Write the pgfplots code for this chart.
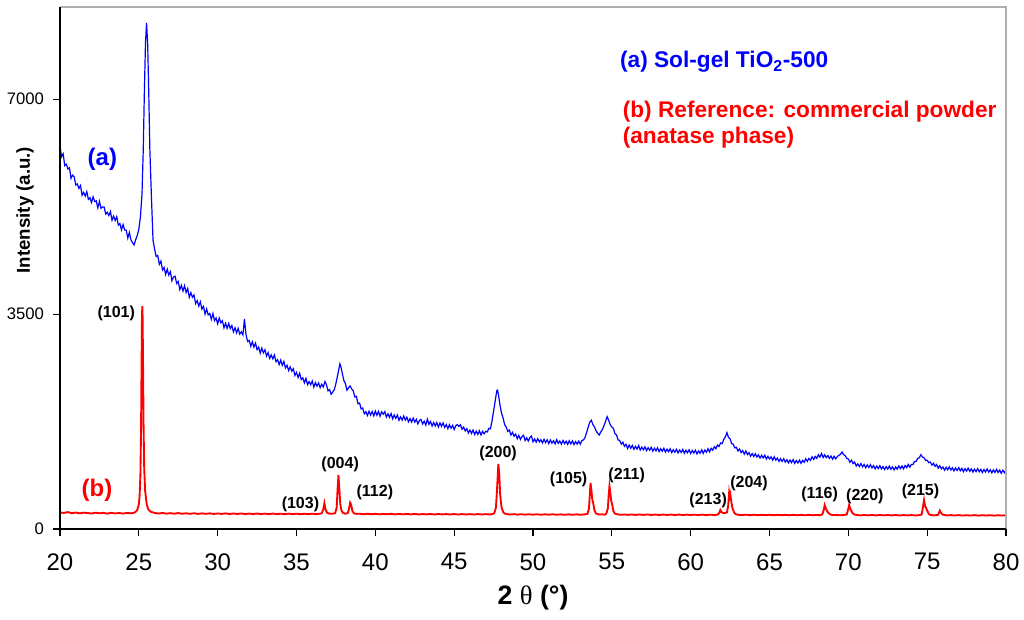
\documentclass[border=0pt]{standalone}
\usepackage{pgfplots}
\pgfplotsset{compat=1.18}
\usepackage{fontspec}
\setmainfont{Liberation Sans}
\newfontfamily\seriffont{Liberation Serif}
\definecolor{pblue}{RGB}{0,0,255}
\definecolor{pred}{RGB}{255,0,0}
\definecolor{framegray}{RGB}{175,175,175}
\begin{document}
\begin{tikzpicture}
\useasboundingbox (-45pt,-68.25pt) rectangle (723pt,396.75pt);
\begin{axis}[
  at={(0,0)}, anchor=south west,
  width=709.5pt, height=391.5pt, scale only axis,
  xmin=20, xmax=80, ymin=0, ymax=8500,
  clip mode=individual,
  axis line style={draw=none},
  tick pos=left,
  xtick={20,25,...,80}, ytick={0,3500,7000},
  tick align=outside, major tick length=5pt,
  tick style={black, line width=0.8pt},
  /pgf/number format/assume math mode=true,
  /pgf/number format/1000 sep={},
  xticklabel style={font=\fontsize{18}{18}\selectfont, yshift=-9.75pt},
  yticklabel style={font=\fontsize{12.5}{12.5}\selectfont, xshift=-3.5pt},
  xlabel={\textbf{2 }{\seriffont θ}\textbf{ (°)}},
  xlabel style={at={(axis description cs:0.5,0)}, anchor=center, yshift=-51.75pt, font=\fontsize{20}{20}\selectfont},
  ylabel={\textbf{Intensity (a.u.)}},
  ylabel style={at={(axis description cs:-0.037,0.611)}, anchor=center, font=\fontsize{14}{14}\selectfont},
]
\addplot[pblue, line width=0.9pt] coordinates {
(20.0,6230)(20.1,6062)(20.2,6110)(20.3,5918)(20.4,5942)(20.5,5862)(20.6,5882)(20.7,5710)(20.8,5762)(20.9,5734)(21.0,5602)(21.1,5618)(21.2,5546)(21.3,5594)(21.4,5434)(21.5,5482)(21.6,5420)(21.7,5494)(21.8,5368)(21.9,5394)(22.0,5316)(22.1,5408)(22.2,5332)(22.3,5344)(22.4,5228)(22.5,5336)(22.6,5222)(22.7,5244)(22.8,5242)(22.9,5128)(23.0,5158)(23.1,5104)(23.2,5170)(23.3,5028)(23.4,5094)(23.5,5024)(23.6,5086)(23.7,4948)(23.8,4972)(23.9,4872)(24.0,4958)(24.1,4868)(24.2,4866)(24.3,4736)(24.4,4830)(24.5,4708)(24.6,4663)(24.7,4627)(24.8,4710)(24.9,4780)
(25.0,4880)(25.1,5080)(25.2,5450)(25.28,6170)(25.35,7100)(25.42,7900)(25.49,8240)(25.56,7900)(25.63,7100)(25.7,6170)(25.8,5400)(25.9,4700)(26.0,4560)
(26.1,4437)(26.2,4453)(26.3,4310)(26.4,4363)(26.5,4217)(26.6,4260)(26.7,4145)(26.8,4230)(26.9,4135)(27.0,4190)(27.1,4042)(27.2,4104)(27.3,4116)(27.4,3998)(27.5,4030)(27.6,3898)(27.7,3966)(27.8,3874)(27.9,3962)(28.0,3850)(28.1,3916)(28.2,3772)(28.3,3848)(28.4,3774)(28.5,3810)(28.6,3670)(28.7,3720)(28.8,3630)(28.9,3700)(29.0,3580)(29.1,3624)(29.2,3498)(29.3,3582)(29.4,3486)(29.5,3510)(29.6,3414)(29.7,3508)(29.8,3392)(29.9,3436)(30.0,3340)
(30.1,3434)(30.2,3358)(30.3,3392)(30.4,3276)(30.5,3350)(30.6,3268)(30.7,3346)(30.8,3264)(30.9,3312)(31.0,3210)(31.1,3276)(31.2,3192)(31.3,3268)(31.4,3174)(31.5,3210)(31.6,3160)(31.7,3420)(31.8,3160)(31.9,3055)(32.0,3070)(32.1,2974)(32.2,3048)(32.3,2962)(32.4,3026)(32.5,2920)(32.6,2962)(32.7,2864)(32.8,2946)(32.9,2868)(33.0,2920)(33.1,2816)(33.2,2872)(33.3,2778)(33.4,2834)(33.5,2770)(33.6,2832)(33.7,2724)(33.8,2756)(33.9,2678)(34.0,2750)(34.1,2664)(34.2,2728)(34.3,2622)(34.4,2666)(34.5,2580)(34.6,2640)(34.7,2570)(34.8,2610)(34.9,2500)(35.0,2550)
(35.1,2468)(35.2,2536)(35.3,2434)(35.4,2462)(35.5,2380)(35.6,2450)(35.7,2350)(35.8,2400)(35.9,2350)(36.0,2410)(36.1,2312)(36.2,2384)(36.3,2326)(36.4,2378)(36.5,2300)(36.6,2357)(36.7,2313)(36.8,2400)(36.9,2350)(37.0,2250)(37.1,2270)(37.2,2195)(37.3,2230)(37.4,2270)(37.5,2370)(37.6,2490)(37.7,2620)(37.75,2690)(37.8,2660)(37.9,2540)(38.0,2420)(38.1,2370)(38.2,2260)(38.3,2300)(38.4,2330)(38.5,2280)(38.6,2250)(38.7,2150)(38.8,2160)(38.9,2040)(39.0,2050)(39.1,1955)(39.2,1970)(39.3,1875)(39.4,1910)(39.5,1848)(39.6,1917)(39.7,1855)(39.8,1913)(39.9,1842)(40.0,1920)
(40.1,1852)(40.2,1914)(40.3,1836)(40.4,1908)(40.5,1870)(40.6,1912)(40.7,1824)(40.8,1876)(40.9,1818)(41.0,1880)(41.1,1794)(41.2,1858)(41.3,1802)(41.4,1856)(41.5,1770)(41.6,1826)(41.7,1772)(41.8,1838)(41.9,1774)(42.0,1820)(42.1,1744)(42.2,1798)(42.3,1742)(42.4,1806)(42.5,1740)(42.6,1786)(42.7,1712)(42.8,1768)(42.9,1784)(43.0,1710)(43.1,1756)(43.2,1692)(43.3,1788)(43.4,1704)(43.5,1750)(43.6,1676)(43.7,1732)(43.8,1678)(43.9,1734)(44.0,1660)(44.1,1726)(44.2,1672)(44.3,1728)(44.4,1654)(44.5,1700)(44.6,1634)(44.7,1698)(44.8,1642)(44.9,1686)(45.0,1620)
(45.1,1680)(45.2,1700)(45.3,1670)(45.4,1697)(45.5,1623)(45.6,1660)(45.7,1597)(45.8,1635)(45.9,1562)(46.0,1610)(46.1,1556)(46.2,1612)(46.3,1538)(46.4,1594)(46.5,1540)(46.6,1600)(46.7,1530)(46.8,1590)(46.9,1550)(47.0,1590)(47.1,1580)(47.2,1640)(47.3,1630)(47.4,1760)(47.5,1920)(47.6,2080)(47.7,2250)(47.75,2260)(47.8,2200)(47.9,2030)(48.0,1890)(48.1,1810)(48.2,1700)(48.3,1660)(48.4,1590)(48.5,1610)(48.6,1530)(48.7,1575)(48.8,1510)(48.9,1545)(49.0,1470)(49.1,1524)(49.2,1458)(49.3,1502)(49.4,1526)(49.5,1440)(49.6,1486)(49.7,1432)(49.8,1488)(49.9,1514)(50.0,1420)
(50.1,1467)(50.2,1414)(50.3,1471)(50.4,1418)(50.5,1455)(50.6,1402)(50.7,1459)(50.8,1406)(50.9,1453)(51.0,1390)(51.1,1449)(51.2,1398)(51.3,1437)(51.4,1386)(51.5,1455)(51.6,1394)(51.7,1433)(51.8,1382)(51.9,1441)(52.0,1390)(52.1,1429)(52.2,1378)(52.3,1437)(52.4,1386)(52.5,1435)(52.6,1374)(52.7,1423)(52.8,1382)(52.9,1431)(53.0,1380)(53.1,1440)(53.2,1450)(53.3,1490)(53.4,1570)(53.5,1660)(53.6,1740)(53.7,1770)(53.8,1700)(53.9,1660)(54.0,1600)(54.1,1560)(54.2,1530)(54.3,1580)(54.4,1620)(54.5,1680)(54.6,1750)(54.7,1830)(54.8,1770)(54.9,1700)(55.0,1660)
(55.1,1640)(55.2,1550)(55.3,1530)(55.4,1450)(55.5,1440)(55.6,1382)(55.7,1414)(55.8,1346)(55.9,1378)(56.0,1310)(56.1,1367)(56.2,1314)(56.3,1361)(56.4,1298)(56.5,1345)(56.6,1302)(56.7,1359)(56.8,1286)(56.9,1333)(57.0,1290)(57.1,1338)(57.2,1276)(57.3,1324)(57.4,1282)(57.5,1330)(57.6,1268)(57.7,1316)(57.8,1274)(57.9,1322)(58.0,1260)(58.1,1308)(58.2,1266)(58.3,1314)(58.4,1252)(58.5,1300)(58.6,1258)(58.7,1306)(58.8,1244)(58.9,1292)(59.0,1250)(59.1,1299)(59.2,1238)(59.3,1287)(59.4,1246)(59.5,1295)(59.6,1234)(59.7,1283)(59.8,1242)(59.9,1291)(60.0,1230)
(60.1,1278)(60.2,1236)(60.3,1284)(60.4,1222)(60.5,1270)(60.6,1234)(60.7,1288)(60.8,1232)(60.9,1286)(61.0,1250)(61.1,1308)(61.2,1256)(61.3,1314)(61.4,1282)(61.5,1340)(61.6,1308)(61.7,1366)(61.8,1344)(61.9,1402)(62.0,1390)(62.1,1460)(62.2,1500)(62.3,1570)(62.4,1490)(62.5,1470)(62.6,1390)(62.7,1380)(62.8,1320)(62.9,1330)(63.0,1270)(63.1,1302)(63.2,1244)(63.3,1276)(63.4,1218)(63.5,1270)(63.6,1212)(63.7,1244)(63.8,1186)(63.9,1228)(64.0,1180)(64.1,1226)(64.2,1172)(64.3,1208)(64.4,1154)(64.5,1200)(64.6,1156)(64.7,1202)(64.8,1138)(64.9,1184)(65.0,1140)
(65.1,1175)(65.2,1120)(65.3,1175)(65.4,1120)(65.5,1155)(65.6,1100)(65.7,1145)(65.8,1100)(65.9,1145)(66.0,1090)(66.1,1128)(66.2,1076)(66.3,1124)(66.4,1082)(66.5,1130)(66.6,1068)(66.7,1116)(66.8,1074)(66.9,1122)(67.0,1070)(67.1,1118)(67.2,1086)(67.3,1144)(67.4,1102)(67.5,1150)(67.6,1118)(67.7,1176)(67.8,1134)(67.9,1182)(68.0,1150)(68.1,1210)(68.2,1170)(68.3,1230)(68.4,1164)(68.5,1208)(68.6,1162)(68.7,1196)(68.8,1150)(68.9,1188)(69.0,1136)(69.1,1184)(69.2,1142)(69.3,1180)(69.4,1200)(69.5,1215)(69.6,1255)(69.7,1210)(69.8,1195)(69.9,1150)(70.0,1140)
(70.1,1085)(70.2,1120)(70.3,1065)(70.4,1090)(70.5,1025)(70.6,1060)(70.7,1017)(70.8,1065)(70.9,1012)(71.0,1050)(71.1,997)(71.2,1044)(71.3,1001)(71.4,1048)(71.5,995)(71.6,1032)(71.7,979)(71.8,1026)(71.9,983)(72.0,1030)(72.1,979)(72.2,1018)(72.3,967)(72.4,1016)(72.5,975)(72.6,1024)(72.7,973)(72.8,1012)(72.9,961)(73.0,1010)(73.1,974)(73.2,1028)(73.3,982)(73.4,1026)(73.5,980)(73.6,1034)(73.7,998)(73.8,1052)(73.9,1006)(74.0,1050)(74.1,1050)(74.2,1100)(74.3,1100)(74.4,1150)(74.5,1160)(74.6,1210)(74.7,1170)(74.8,1160)(74.9,1120)(75.0,1120)
(75.1,1080)(75.2,1090)(75.3,1040)(75.4,1070)(75.5,1020)(75.6,1050)(75.7,990)(75.8,1030)(75.9,980)(76.0,1010)(76.1,958)(76.2,1006)(76.3,964)(76.4,1012)(76.5,960)(76.6,998)(76.7,946)(76.8,994)(76.9,952)(77.0,1000)(77.1,948)(77.2,987)(77.3,935)(77.4,984)(77.5,942)(77.6,991)(77.7,939)(77.8,978)(77.9,926)(78.0,975)(78.1,934)(78.2,983)(78.3,932)(78.4,971)(78.5,920)(78.6,969)(78.7,928)(78.8,977)(78.9,926)(79.0,965)(79.1,914)(79.2,963)(79.3,922)(79.4,971)(79.5,920)(79.6,959)(79.7,908)(79.8,957)(79.9,916)(80.0,955)
};
\addplot[pred, line width=1.4pt] coordinates {
(20.0,270)(20.25,262)(20.5,275)(20.75,258)(21.0,268)(21.25,255)(21.5,266)(21.75,260)(22.0,252)(22.25,265)(22.5,256)(22.75,262)(23.0,250)(23.25,263)(23.5,254)(23.75,260)(24.0,251)(24.25,262)(24.5,255)(24.7,265)(24.8,280)(24.9,310)(25.0,400)(25.05,540)(25.1,880)(25.14,1600)(25.17,2600)(25.2,3450)(25.22,3630)(25.24,3450)(25.27,2600)(25.3,1700)(25.34,1000)(25.4,620)(25.5,400)(25.6,320)(25.75,280)(26.0,262)(26.25,252)(26.5,261)(26.75,250)(27.0,258)
(27.25,249)(27.5,259)(27.75,248)(28.0,256)(28.25,247)(28.5,257)(28.75,246)(29.0,254)(29.25,247)(29.5,255)(29.75,245)(30.0,253)(30.25,246)(30.5,254)(30.75,244)(31.0,252)(31.25,245)(31.5,253)(31.75,243)(32.0,251)(32.25,244)(32.5,252)(32.75,243)(33.0,250)(33.25,242)(33.5,251)(33.75,243)(34.0,249)(34.25,241)(34.5,250)(34.75,242)(35.0,249)(35.25,241)(35.5,248)(35.75,242)(36.0,249)(36.25,241)(36.5,250)(36.6,256)(36.7,320)(36.77,420)(36.85,310)(36.95,262)(37.1,250)(37.3,248)(37.45,258)(37.55,350)(37.6,620)(37.66,880)(37.72,640)(37.78,400)(37.85,300)(37.95,262)(38.1,250)(38.25,258)(38.33,330)(38.4,430)(38.46,400)(38.55,290)(38.65,255)(38.8,246)(39.0,249)(39.25,240)(39.5,248)
(39.75,241)(40.0,247)(40.25,239)(40.5,246)(40.75,240)(41.0,247)(41.25,238)(41.5,246)(41.75,239)(42.0,245)(42.25,238)(42.5,246)(42.75,237)(43.0,244)(43.25,238)(43.5,245)(43.75,236)(44.0,244)(44.25,237)(44.5,243)(44.75,236)(45.0,244)(45.25,235)(45.5,243)(45.75,236)(46.0,242)(46.25,235)(46.5,243)(46.75,236)(47.0,242)(47.25,236)(47.45,245)(47.55,262)(47.65,350)(47.72,650)(47.8,1060)(47.86,900)(47.92,550)(48.0,360)(48.1,280)(48.2,252)(48.4,240)(48.6,236)(48.8,242)(49.0,234)(49.25,241)(49.5,234)(49.75,240)(50.0,233)(50.25,240)(50.5,232)(50.75,239)(51.0,233)(51.25,240)(51.5,232)(51.75,238)(52.0,231)(52.25,239)(52.5,232)(52.75,238)(53.0,231)(53.25,238)(53.45,245)(53.55,330)(53.6,550)(53.65,750)(53.7,640)(53.76,480)(53.82,420)(53.9,300)(54.0,252)(54.2,236)(54.4,238)(54.55,234)(54.65,250)(54.75,340)(54.8,550)(54.85,700)(54.9,600)(54.96,460)(55.02,400)(55.1,290)(55.2,250)(55.4,236)(55.6,231)(55.8,237)
(56.0,230)(56.25,237)(56.5,229)(56.75,236)(57.0,230)(57.25,236)(57.5,229)(57.75,235)(58.0,228)(58.25,235)(58.5,229)(58.75,234)(59.0,228)(59.25,235)(59.5,227)(59.75,234)(60.0,228)(60.25,233)(60.5,227)(60.75,234)(61.0,226)(61.25,233)(61.5,227)(61.7,234)(61.8,255)(61.88,310)(61.95,275)(62.05,262)(62.15,258)(62.3,270)(62.38,380)(62.44,590)(62.48,520)(62.52,560)(62.58,440)(62.65,340)(62.75,270)(62.85,242)(63.0,232)(63.25,226)(63.5,233)(63.75,225)(64.0,232)(64.25,226)(64.5,231)(64.75,225)(65.0,232)(65.25,224)(65.5,231)(65.75,225)(66.0,230)(66.25,224)(66.5,231)(66.75,224)(67.0,230)(67.25,223)(67.5,230)(67.75,224)(68.0,229)(68.2,224)(68.35,238)(68.45,320)(68.5,390)(68.58,330)(68.7,270)(68.85,238)(69.0,226)(69.25,229)(69.5,223)(69.75,229)(69.9,238)(70.0,330)(70.05,390)(70.12,330)(70.25,262)(70.4,234)(70.6,226)(70.8,222)
(71.0,229)(71.25,222)(71.5,228)(71.75,221)(72.0,228)(72.25,222)(72.5,227)(72.75,221)(73.0,228)(73.25,220)(73.5,227)(73.75,221)(74.0,227)(74.25,220)(74.5,226)(74.65,236)(74.73,350)(74.8,470)(74.86,380)(74.92,350)(75.0,300)(75.1,245)(75.2,230)(75.4,222)(75.6,226)(75.7,232)(75.8,300)(75.88,262)(76.0,232)(76.25,221)(76.5,226)(76.75,220)(77.0,226)(77.25,219)(77.5,225)(77.75,219)(78.0,226)(78.25,218)(78.5,225)(78.75,219)(79.0,225)(79.25,218)(79.5,224)(79.75,219)(80.0,224)
};
\draw[framegray, line width=1.2pt] (rel axis cs:0,1) -- (rel axis cs:1,1) -- (rel axis cs:1,0);
\draw[black, line width=0.8pt] (rel axis cs:0,1) -- (rel axis cs:0,0) -- (rel axis cs:1,0);
\begin{scope}[every node/.style={font=\bfseries\fontsize{12}{12}\selectfont, text=black, inner sep=0pt}]
\node at (axis cs:23.57,3516) {(101)};
\node at (axis cs:35.25,407) {(103)};
\node at (axis cs:37.77,1050) {(004)};
\node at (axis cs:39.97,594) {(112)};
\node at (axis cs:47.79,1232) {(200)};
\node at (axis cs:52.26,814) {(105)};
\node at (axis cs:55.94,866) {(211)};
\node at (axis cs:61.11,472) {(213)};
\node at (axis cs:63.7,736) {(204)};
\node at (axis cs:68.18,558) {(116)};
\node at (axis cs:71.05,534) {(220)};
\node at (axis cs:74.58,614) {(215)};
\end{scope}
\node[font=\bfseries\fontsize{18}{18}\selectfont, text=pblue, inner sep=0pt] at (axis cs:22.69,6024) {(a)};
\node[font=\bfseries\fontsize{18}{18}\selectfont, text=pred, inner sep=0pt] at (axis cs:22.35,635) {(b)};
\node[font=\bfseries\fontsize{17}{17}\selectfont, text=pblue, inner sep=0pt, anchor=west] at (axis cs:55.51,7603) {(a) Sol-gel TiO\textsubscript{2}-500};
\node[font=\bfseries\fontsize{17}{17}\selectfont, text=pred, inner sep=0pt, anchor=west] at (axis cs:55.68,6794) {(b) Reference: commercial powder};
\node[font=\bfseries\fontsize{17}{17}\selectfont, text=pred, inner sep=0pt, anchor=west] at (axis cs:55.68,6366) {(anatase phase)};
\end{axis}
\end{tikzpicture}
\end{document}
